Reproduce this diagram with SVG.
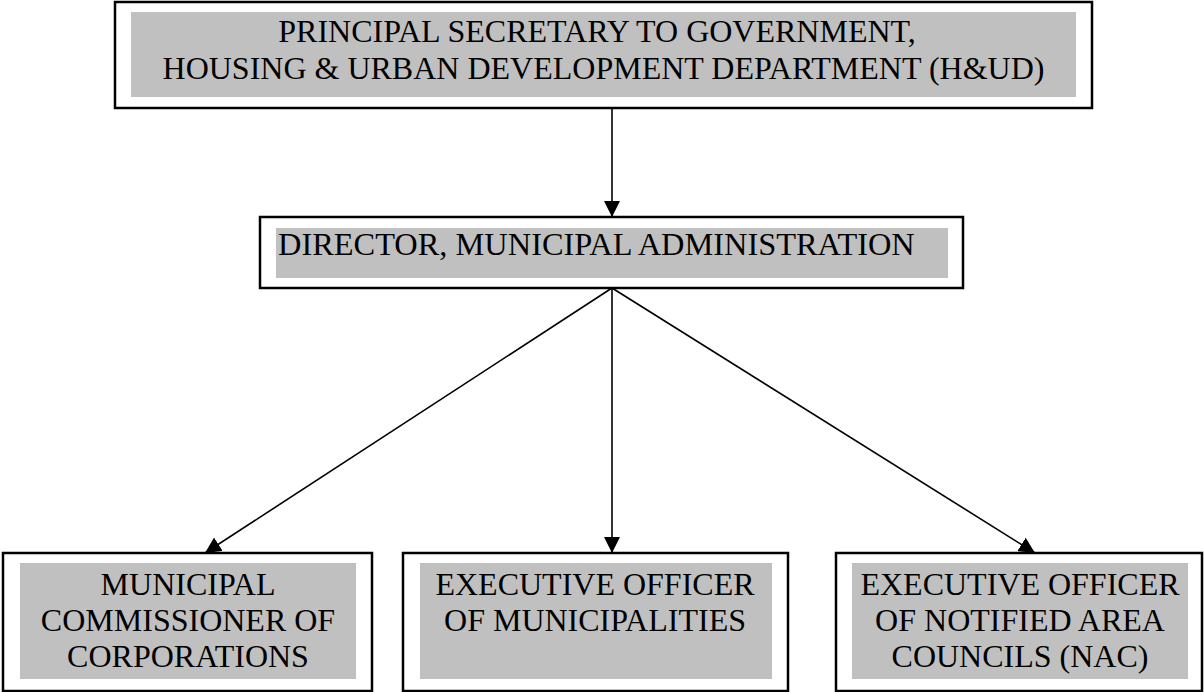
<svg xmlns="http://www.w3.org/2000/svg" width="1204" height="692" viewBox="0 0 1204 692">
<style>
.frame{fill:#ffffff;stroke:#000000;stroke-width:2.5}
.shade{fill:#c0c0c0;stroke:none}
.t{font-family:"Liberation Serif","Times New Roman",serif;font-size:32px;fill:#000000}
.c{text-anchor:middle}
.conn{stroke:#000000;stroke-width:1.6;fill:none;marker-end:url(#ah)}
</style>
<defs>
<marker id="ah" markerUnits="userSpaceOnUse" markerWidth="16" markerHeight="16" viewBox="0 0 16 16" refX="16" refY="8" orient="auto">
<path d="M0,0 L16,8 L0,16 z" fill="#000000"/>
</marker>
</defs>
<rect width="1204" height="692" fill="#ffffff"/>
<g id="connectors">
<line class="conn" x1="612" y1="108" x2="612" y2="217"/>
<line class="conn" x1="612" y1="288" x2="205" y2="553"/>
<line class="conn" x1="612" y1="288" x2="612" y2="553"/>
<line class="conn" x1="612" y1="288" x2="1035" y2="553"/>
</g>
<g id="node-principal-secretary">
<rect class="frame" x="115" y="2" width="977" height="106"/>
<rect class="shade" x="131" y="12" width="945" height="85"/>
<text class="t c" x="597" y="42">PRINCIPAL SECRETARY TO GOVERNMENT,</text>
<text class="t c" x="603.5" y="79">HOUSING &amp; URBAN DEVELOPMENT DEPARTMENT (H&amp;UD)</text>
</g>
<g id="node-director">
<rect class="frame" x="260" y="217" width="703" height="71"/>
<rect class="shade" x="276" y="228" width="672" height="50"/>
<text class="t" x="278" y="255" style="font-size:32.4px">DIRECTOR, MUNICIPAL ADMINISTRATION</text>
</g>
<g id="node-commissioner">
<rect class="frame" x="3" y="553" width="369" height="138"/>
<rect class="shade" x="20" y="563" width="336" height="116"/>
<text class="t c" x="188" y="595">MUNICIPAL</text>
<text class="t c" x="188" y="631">COMMISSIONER OF</text>
<text class="t c" x="188" y="667">CORPORATIONS</text>
</g>
<g id="node-eo-municipalities">
<rect class="frame" x="403" y="553" width="385" height="138"/>
<rect class="shade" x="420" y="563" width="352" height="116"/>
<text class="t c" x="595" y="595">EXECUTIVE OFFICER</text>
<text class="t c" x="595" y="631">OF MUNICIPALITIES</text>
</g>
<g id="node-eo-nac">
<rect class="frame" x="836" y="553" width="366" height="138"/>
<rect class="shade" x="852" y="563" width="336" height="116"/>
<text class="t c" x="1020" y="595">EXECUTIVE OFFICER</text>
<text class="t c" x="1020" y="631">OF NOTIFIED AREA</text>
<text class="t c" x="1020" y="667">COUNCILS (NAC)</text>
</g>
</svg>
